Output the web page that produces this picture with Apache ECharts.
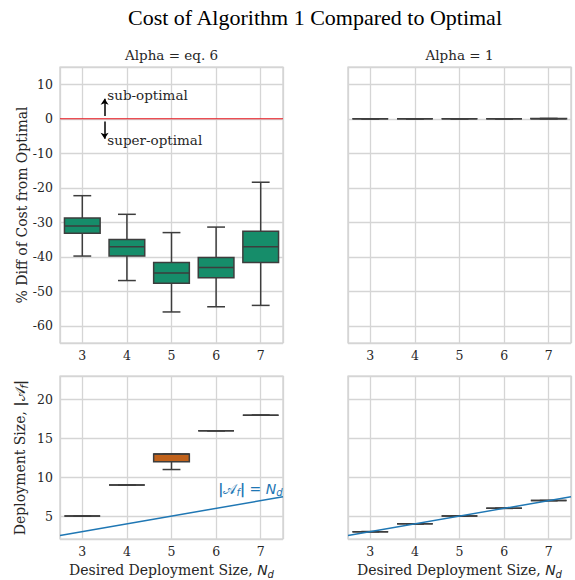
<!DOCTYPE html>
<html><head><meta charset="utf-8">
<script src="https://cdn.jsdelivr.net/npm/echarts@6/dist/echarts.min.js"></script>
<style>html,body{margin:0;padding:0;background:#fff}#c{width:575px;height:580px}</style>
</head><body><div id="c"></div>
<script>
const categories = ['3', '4', '5', '6', '7'];
// each box: [lower whisker, q1, median, q3, upper whisker]
const costEq6 = [
  [-39.8, -33.2, -31.1, -28.8, -22.3],
  [-46.9, -39.8, -37.1, -35.0, -27.7],
  [-56.0, -47.7, -44.7, -41.7, -33.0],
  [-54.5, -46.1, -43.1, -40.2, -31.4],
  [-54.1, -41.7, -37.1, -32.6, -18.4]
];
const costAlpha1 = [
  [0, 0, 0, 0, 0],
  [0, 0, 0, 0, 0],
  [0, 0, 0, 0, 0],
  [0, 0, 0, 0, 0],
  [0, 0, 0, 0.1, 0.1]
];
const sizeEq6 = [
  [5, 5, 5, 5, 5],
  [9, 9, 9, 9, 9],
  [11, 12, 13, 13, 13],
  [16, 16, 16, 16, 16],
  [18, 18, 18, 18, 18]
];
const sizeAlpha1 = [
  [3, 3, 3, 3, 3],
  [4, 4, 4, 4, 4],
  [5, 5, 5, 5, 5],
  [6, 6, 6, 6, 6],
  [7, 7, 7, 7, 7]
];
const identityLine = [[2.5, 2.5], [7.5, 7.5]];
const zeroLine = [[2.5, 0], [7.5, 0]];
const arrowUp = [[3.5, 0.8], [3.5, 5.8]];
const arrowDown = [[3.5, -0.8], [3.5, -5.8]];
const annotations = [[3.56, 6.9, 'sub-optimal'], [3.56, -6.1, 'super-optimal']];
const identityLabelPos = [[6.05, 8.5, '{b||}{c|𝒜}{s|f}{b||}{t| = }{i|N}{s|d}']];
const costRange = [-65, 15];
const sizeRange = [2.05, 23.05];

const SERIF = 'DejaVu Serif';
const TXT = '#262626';
const GRIDC = '#d5d5d5';
const EDGE = '#3d3d3d';
const GREEN = '#168d6a';
const ORANGE = '#c1621b';
const BLUE = '#1f77b4';

const grids = [
  {left: 60, top: 67, width: 223, height: 276},
  {left: 348, top: 67, width: 223, height: 276},
  {left: 60, top: 376, width: 223, height: 167},
  {left: 348, top: 376, width: 223, height: 167}
].map(g => Object.assign(g, {show: true, borderColor: '#cccccc', borderWidth: 1.2, backgroundColor: '#fff'}));

const xName = {
  name: '{t|Desired Deployment Size, }{i|N}{s|d}',
  nameLocation: 'middle',
  nameGap: 21,
  nameTextStyle: {
    color: TXT,
    rich: {
      t: {fontFamily: SERIF, fontSize: 14, color: TXT, lineHeight: 19},
      i: {fontFamily: 'DejaVu Sans', fontStyle: 'italic', fontSize: 14, color: TXT, lineHeight: 19},
      s: {fontFamily: 'DejaVu Sans', fontStyle: 'italic', fontSize: 10, color: TXT, lineHeight: 19, verticalAlign: 'bottom'}
    }
  }
};

function catAxis(gi, withName) {
  const a = {
    gridIndex: gi, type: 'category', data: categories, position: 'bottom',
    axisLine: {show: false}, axisTick: {show: false}, splitLine: {show: false},
    axisLabel: {color: TXT, fontFamily: SERIF, fontSize: 12.5, margin: 6}
  };
  if (withName) Object.assign(a, xName);
  return a;
}
function valXAxis(gi) {
  return {
    gridIndex: gi, type: 'value', min: 2.5, max: 7.5, splitNumber: 5, position: 'bottom',
    axisLine: {show: false}, axisTick: {show: false}, axisLabel: {show: false},
    splitLine: {show: true, lineStyle: {color: GRIDC, width: 1.3}}
  };
}
function yAx(gi, range, splitNumber, labels, nameOpt) {
  const a = {
    gridIndex: gi, type: 'value', min: range[0], max: range[1], splitNumber: splitNumber,
    axisLine: {show: false}, axisTick: {show: false},
    axisLabel: {show: labels, color: TXT, fontFamily: SERIF, fontSize: 12.5, margin: 7, showMinLabel: false, showMaxLabel: false},
    splitLine: {show: true, lineStyle: {color: GRIDC, width: 1.3}}
  };
  if (nameOpt) Object.assign(a, nameOpt);
  return a;
}

function boxRender(fill) {
  return function (params, api) {
    const i = api.value(0);
    const c = [1, 2, 3, 4, 5].map(k => api.coord([i, api.value(k)]));
    const bw = api.size([1, 0])[0];
    const hb = bw * 0.4, hc = bw * 0.2;
    const x = c[0][0];
    const st = {stroke: EDGE, lineWidth: 1.5};
    return {
      type: 'group', children: [
        {type: 'line', shape: {x1: x, y1: c[0][1], x2: x, y2: c[1][1]}, style: st},
        {type: 'line', shape: {x1: x, y1: c[3][1], x2: x, y2: c[4][1]}, style: st},
        {type: 'line', shape: {x1: x - hc, y1: c[0][1], x2: x + hc, y2: c[0][1]}, style: st},
        {type: 'line', shape: {x1: x - hc, y1: c[4][1], x2: x + hc, y2: c[4][1]}, style: st},
        {type: 'rect', shape: {x: x - hb, y: c[3][1], width: 2 * hb, height: c[1][1] - c[3][1]},
          style: {fill: fill, stroke: EDGE, lineWidth: 1.5}},
        {type: 'line', shape: {x1: x - hb, y1: c[2][1], x2: x + hb, y2: c[2][1]}, style: st}
      ]
    };
  };
}
function boxSeries(data, xi, yi, fill) {
  return {
    type: 'custom', xAxisIndex: xi, yAxisIndex: yi, z: 3,
    renderItem: boxRender(fill),
    encode: {x: 0, y: [1, 2, 3, 4, 5]},
    data: data.map((v, i) => [i].concat(v)),
    silent: true, clip: true
  };
}
function textSeries(data, xi, yi, style) {
  return {
    type: 'custom', xAxisIndex: xi, yAxisIndex: yi, z: 7, silent: true,
    encode: {x: 0, y: 1},
    data: data,
    renderItem: function (params, api) {
      const p = api.coord([api.value(0), api.value(1)]);
      const d = data[params.dataIndex];
      return {
        type: 'text', x: p[0], y: p[1],
        style: Object.assign({text: d[2], textAlign: 'left', textVerticalAlign: 'middle'}, style)
      };
    }
  };
}

const mathRich = {
  b: {fontFamily: 'DejaVu Sans', fontSize: 14, fill: BLUE, fontWeight: 'bold'},
  c: {fontFamily: 'DejaVu Sans', fontSize: 14, fill: BLUE},
  s: {fontFamily: 'DejaVu Sans', fontStyle: 'italic', fontSize: 10, fill: BLUE, verticalAlign: 'bottom', lineHeight: 18},
  t: {fontFamily: 'DejaVu Sans', fontSize: 14, fill: BLUE},
  i: {fontFamily: 'DejaVu Sans', fontStyle: 'italic', fontSize: 14, fill: BLUE}
};

const option = {
  animation: false,
  backgroundColor: '#fff',
  grid: grids,
  graphic: [
    {type: 'text', x: 315, y: 17, style: {text: 'Cost of Algorithm 1 Compared to Optimal', fontFamily: 'Liberation Serif', fontSize: 22, fill: '#000', textAlign: 'center', textVerticalAlign: 'middle'}},
    {type: 'text', x: 171.5, y: 55, style: {text: 'Alpha = eq. 6', fontFamily: SERIF, fontSize: 13.5, fill: TXT, textAlign: 'center', textVerticalAlign: 'middle'}},
    {type: 'text', x: 459.5, y: 55, style: {text: 'Alpha = 1', fontFamily: SERIF, fontSize: 13.5, fill: TXT, textAlign: 'center', textVerticalAlign: 'middle'}}
  ],
  xAxis: [
    catAxis(0, false), valXAxis(0),
    catAxis(1, false), valXAxis(1),
    catAxis(2, true), valXAxis(2),
    catAxis(3, true), valXAxis(3)
  ],
  yAxis: [
    yAx(0, costRange, 8, true, {
      name: '% Diff of Cost from Optimal', nameLocation: 'middle', nameGap: 31,
      nameTextStyle: {fontFamily: SERIF, fontSize: 14, color: TXT}
    }),
    yAx(1, costRange, 8, false),
    yAx(2, sizeRange, 4, true, {
      name: '{t|Deployment Size, }{b||}{c|𝒜}{s|f}{b||}', nameLocation: 'middle', nameGap: 31,
      nameTextStyle: {
        color: TXT,
        rich: {
          t: {fontFamily: SERIF, fontSize: 14, color: TXT, lineHeight: 19},
          b: {fontFamily: 'DejaVu Sans', fontSize: 14, color: TXT, fontWeight: 'bold', lineHeight: 19},
          c: {fontFamily: 'DejaVu Sans', fontSize: 14, color: TXT, lineHeight: 19},
          s: {fontFamily: 'DejaVu Sans', fontStyle: 'italic', fontSize: 10, color: TXT, lineHeight: 19, verticalAlign: 'bottom'}
        }
      }
    }),
    yAx(3, sizeRange, 4, false)
  ],
  series: [
    boxSeries(costEq6, 0, 0, GREEN),
    {
      type: 'line', xAxisIndex: 1, yAxisIndex: 0, data: zeroLine, symbol: 'none', silent: true, z: 4,
      lineStyle: {color: '#e8141c', width: 1.2}
    },
    {
      type: 'line', xAxisIndex: 1, yAxisIndex: 0, data: [], silent: true, z: 4,
      itemStyle: {color: '#000'},
      markLine: {
        silent: true, animation: false, label: {show: false},
        symbol: ['none', 'arrow'], symbolSize: 6,
        lineStyle: {color: '#000', width: 1.5, type: 'solid'},
        data: [
          [{coord: arrowUp[0]}, {coord: arrowUp[1]}],
          [{coord: arrowDown[0]}, {coord: arrowDown[1]}]
        ]
      }
    },
    textSeries(annotations, 1, 0, {fontFamily: SERIF, fontSize: 13.5, fill: TXT}),
    boxSeries(costAlpha1, 2, 1, GREEN),
    boxSeries(sizeEq6, 4, 2, ORANGE),
    {
      type: 'line', xAxisIndex: 5, yAxisIndex: 2, data: identityLine, symbol: 'none', z: 6, silent: true,
      lineStyle: {color: BLUE, width: 1.5}
    },
    textSeries(identityLabelPos, 5, 2, {fontFamily: 'DejaVu Sans', fontSize: 14, fill: BLUE, rich: mathRich}),
    boxSeries(sizeAlpha1, 6, 3, ORANGE),
    {
      type: 'line', xAxisIndex: 7, yAxisIndex: 3, data: identityLine, symbol: 'none', z: 6, silent: true,
      lineStyle: {color: BLUE, width: 1.5}
    }
  ]
};
const chart = echarts.init(document.getElementById('c'), null, {renderer: 'svg'});
chart.setOption(option);
</script>
</body></html>
